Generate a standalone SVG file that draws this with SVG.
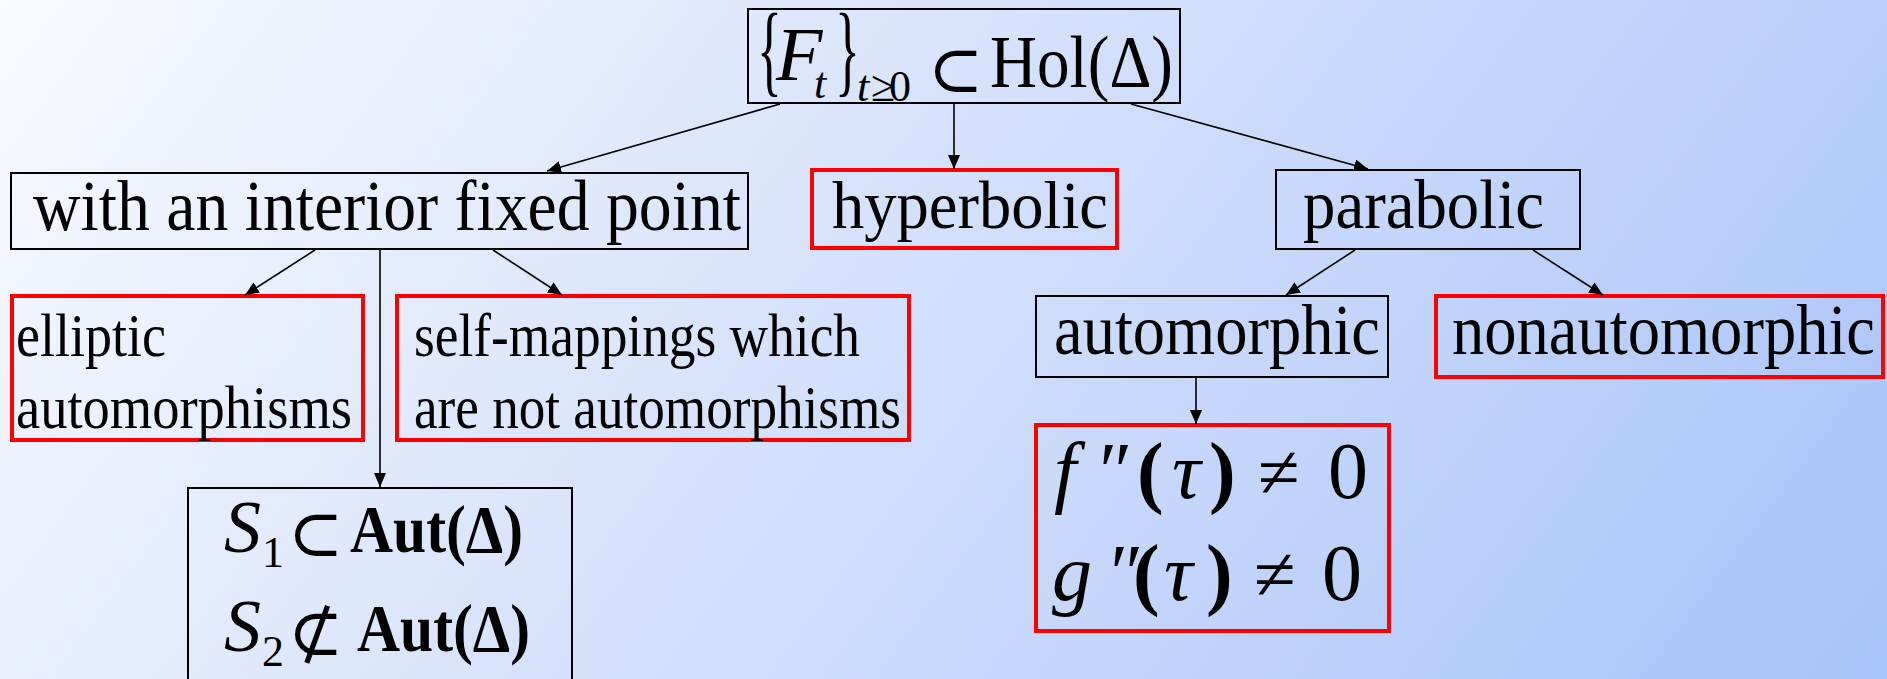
<svg xmlns="http://www.w3.org/2000/svg" width="1887" height="679" viewBox="0 0 1887 679">
<defs>
<linearGradient id="bg" gradientUnits="userSpaceOnUse" x1="0" y1="0" x2="1624" y2="1204">
<stop offset="0" stop-color="#f9fafe"/>
<stop offset="1" stop-color="#a4c0f8"/>
</linearGradient>
<marker id="ah" markerUnits="userSpaceOnUse" markerWidth="14" markerHeight="12" viewBox="0 0 14 12" refX="14" refY="6" orient="auto">
<path d="M0,0 L14,6 L0,12 z" fill="#000"/>
</marker>
<style>
.t{font-family:"Liberation Serif","DejaVu Serif",serif;fill:#000}
.it{font-style:italic}
.b{font-weight:bold}
.bk{fill:none;stroke:#000;stroke-width:2}
.rd{fill:none;stroke:#ff0000;stroke-width:4}
.c{stroke:#000;stroke-width:1.6;fill:none;marker-end:url(#ah)}
</style>
</defs>
<rect width="1887" height="679" fill="url(#bg)"/>

<g id="root">
<rect class="bk" x="748" y="9" width="432" height="94"/>
<text class="t" font-size="72" transform="translate(757,83) scale(0.72,1.42)">{</text>
<text class="t it" font-size="76" x="776" y="80">F</text>
<text class="t it" font-size="44" x="814" y="98">t</text>
<text class="t" font-size="72" transform="translate(835,83) scale(0.72,1.42)">}</text>
<text class="t" font-size="44" y="101"><tspan class="it" x="857">t</tspan><tspan x="871">≥</tspan><tspan x="889">0</tspan></text>
<text class="t" font-size="66" x="928" y="92">⊂</text>
<text class="t" font-size="74" x="990" y="87" textLength="183" lengthAdjust="spacingAndGlyphs">Hol(Δ)</text>
</g>

<g id="interior">
<rect class="bk" x="11" y="173" width="737" height="76"/>
<text class="t" font-size="71" x="33" y="230" textLength="708" lengthAdjust="spacingAndGlyphs">with an interior fixed point</text>
</g>

<g id="hyperbolic">
<rect class="rd" x="812" y="170" width="305" height="78"/>
<text class="t" font-size="68" x="832" y="228" textLength="276" lengthAdjust="spacingAndGlyphs">hyperbolic</text>
</g>

<g id="parabolic">
<rect class="bk" x="1276" y="170" width="304" height="79"/>
<text class="t" font-size="70" x="1303" y="228" textLength="241" lengthAdjust="spacingAndGlyphs">parabolic</text>
</g>

<g id="elliptic">
<rect class="rd" x="12" y="296" width="351" height="144"/>
<text class="t" font-size="62" x="16" y="356" textLength="150" lengthAdjust="spacingAndGlyphs">elliptic</text>
<text class="t" font-size="62" x="16" y="428" textLength="336" lengthAdjust="spacingAndGlyphs">automorphisms</text>
</g>

<g id="selfmap">
<rect class="rd" x="397" y="296" width="512" height="144"/>
<text class="t" font-size="62" x="414" y="356" textLength="446" lengthAdjust="spacingAndGlyphs">self-mappings which</text>
<text class="t" font-size="62" x="414" y="428" textLength="487" lengthAdjust="spacingAndGlyphs">are not automorphisms</text>
</g>

<g id="automorphic">
<rect class="bk" x="1036" y="296" width="352" height="81"/>
<text class="t" font-size="71" x="1054" y="354" textLength="326" lengthAdjust="spacingAndGlyphs">automorphic</text>
</g>

<g id="nonautomorphic">
<rect class="rd" x="1436" y="296" width="447" height="81"/>
<text class="t" font-size="71" x="1452" y="354" textLength="423" lengthAdjust="spacingAndGlyphs">nonautomorphic</text>
</g>

<g id="sbox">
<rect class="bk" x="188" y="488" width="384" height="220"/>
<text class="t it" font-size="74" x="224" y="552">S</text>
<text class="t" font-size="44" x="262" y="567">1</text>
<text class="t" font-size="66" x="288" y="556">⊂</text>
<text class="t b" font-size="68" x="350" y="552" textLength="173" lengthAdjust="spacingAndGlyphs">Aut(Δ)</text>
<text class="t it" font-size="74" x="224" y="651">S</text>
<text class="t" font-size="44" x="262" y="666">2</text>
<text class="t" font-size="66" x="288" y="655">⊄</text>
<text class="t b" font-size="68" x="357" y="651" textLength="173" lengthAdjust="spacingAndGlyphs">Aut(Δ)</text>
</g>

<g id="fgbox">
<text class="t" font-size="80" y="498"><tspan class="it" x="1054">f</tspan><tspan class="it" x="1094">″</tspan><tspan class="b" x="1137">(</tspan><tspan class="it" x="1172">τ</tspan><tspan class="b" x="1209">)</tspan><tspan x="1258" font-size="76">≠</tspan><tspan x="1328">0</tspan></text>
<text class="t" font-size="80" y="600"><tspan class="it" x="1052">g</tspan><tspan class="it" x="1105">″</tspan><tspan class="b" x="1133">(</tspan><tspan class="it" x="1164">τ</tspan><tspan class="b" x="1206">)</tspan><tspan x="1254" font-size="76">≠</tspan><tspan x="1322">0</tspan></text>
<rect class="rd" x="1036" y="425" width="353" height="206"/>
</g>

<g id="connectors">
<line class="c" x1="780" y1="104" x2="547" y2="171"/>
<line class="c" x1="954" y1="104" x2="954" y2="169"/>
<line class="c" x1="1131" y1="104" x2="1368" y2="169"/>
<line class="c" x1="315" y1="250" x2="245" y2="295"/>
<line class="c" x1="493" y1="250" x2="562" y2="295"/>
<line class="c" x1="380" y1="250" x2="380" y2="487"/>
<line class="c" x1="1355" y1="250" x2="1286" y2="295"/>
<line class="c" x1="1533" y1="250" x2="1603" y2="295"/>
<line class="c" x1="1196" y1="378" x2="1196" y2="424"/>
</g>
</svg>
